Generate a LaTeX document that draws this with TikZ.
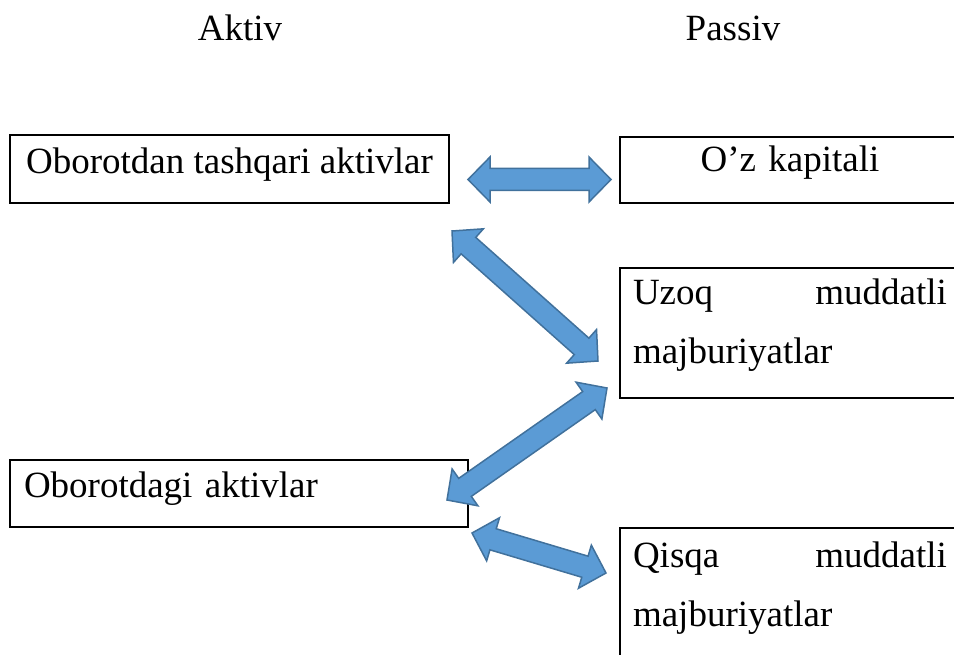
\documentclass[tikz,border=0pt]{standalone}
\usepackage{fontspec}
\setmainfont{Liberation Serif}
\usepackage{xcolor}
\usepackage{tikz}
\usetikzlibrary{positioning,calc}

\definecolor{arrfill}{HTML}{5B9BD5}
\definecolor{arrline}{HTML}{41719C}

% two-headed block arrow between two points
\newcommand{\dblarrow}[2]{%
  \draw[blockarr] (#1)
    -- ($(#1)!22pt!(#2)!22.5pt!90:(#2)$)
    -- ($(#1)!22pt!(#2)!11pt!90:(#2)$)
    -- ($(#2)!22pt!(#1)!11pt!-90:(#1)$)
    -- ($(#2)!22pt!(#1)!22.5pt!-90:(#1)$)
    -- (#2)
    -- ($(#2)!22pt!(#1)!22.5pt!90:(#1)$)
    -- ($(#2)!22pt!(#1)!11pt!90:(#1)$)
    -- ($(#1)!22pt!(#2)!11pt!-90:(#2)$)
    -- ($(#1)!22pt!(#2)!22.5pt!-90:(#2)$)
    -- cycle;}

\begin{document}
\begin{tikzpicture}[x=1pt, y=-1pt,
every node/.style={font=\fontsize{37}{59}\selectfont},
leftbox/.style={draw, line width=2.5pt, outer sep=0pt, anchor=north west, inner xsep=14pt, inner ysep=0pt, align=left},
rightbox/.style={draw, line width=2.5pt, outer sep=0pt, inner xsep=13pt, inner ysep=0pt, text width=314pt, align=left},
blockarr/.style={fill=arrfill, draw=arrline, line width=1.5pt, line join=miter},
]
\useasboundingbox (0,0) rectangle (954,655);
\clip (0,0) rectangle (954,655);

%Nodes
\node[anchor=base](Aktiv) at (240,41) {Aktiv};
\node[anchor=base](Passiv) at (733,41) {Passiv};

\node[leftbox, minimum width=439pt, text height=39pt, text depth=29pt](Oborotdan) at (10,135) {Oborotdan tashqari aktivlar};
\node[leftbox, text width=430pt, text height=37pt, text depth=30pt](Oborotdagi)[below=257pt of Oborotdan.south west, anchor=north west] {Oborotdagi aktivlar};

\node[rightbox, anchor=north west, align=center, text height=35pt, text depth=31pt](Ozkapital) at (620,137) {O’z kapitali};
\node[rightbox, text height=37pt, text depth=93pt](Uzoq)[below=65pt of Ozkapital] {Uzoq\hfill muddatli\\majburiyatlar};
\node[rightbox, text height=39pt, text depth=95pt](Qisqa)[below=130pt of Uzoq] {Qisqa\hfill muddatli\\majburiyatlar};

%Arrow ends
\coordinate (a1l) at (468,179.5);
\coordinate (a1r) at (611,179.5);
\coordinate (a2l) at (452,231);
\coordinate (a2r) at (598,361);
\coordinate (a3r) at (607,388);
\coordinate (a3l) at (447,500);
\coordinate (a4l) at (472,533);
\coordinate (a4r) at (606,573);

%Arrows
\dblarrow{a1l}{a1r}
\dblarrow{a2l}{a2r}
\dblarrow{a3r}{a3l}
\dblarrow{a4l}{a4r}
\end{tikzpicture}
\end{document}
